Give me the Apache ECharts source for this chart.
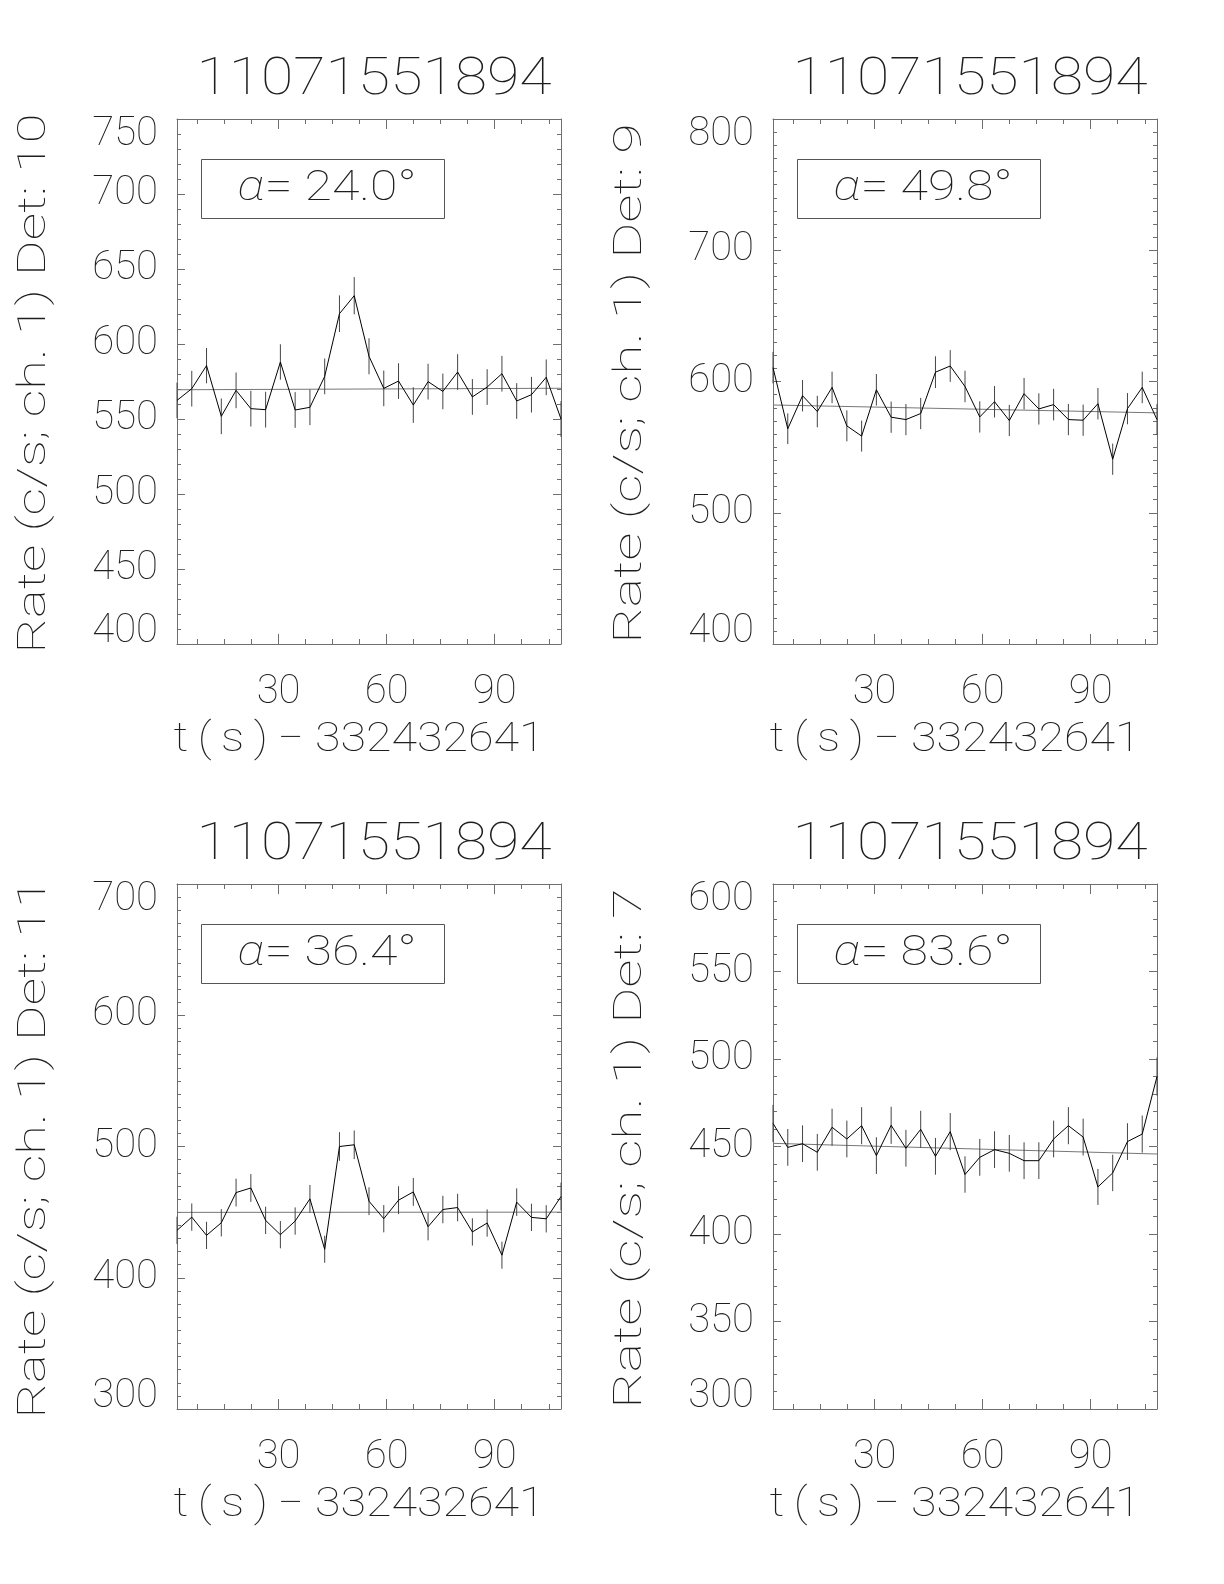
<!DOCTYPE html>
<html><head><meta charset="utf-8">
<script src="https://cdn.jsdelivr.net/npm/echarts@6/dist/echarts.min.js"></script>
<style>html,body{margin:0;padding:0;background:#fff}#c{width:1224px;height:1584px}</style>
</head><body><div id="c"></div>
<script>
// ---------------- data ----------------
const times = [1.8, 5.9, 10.0, 14.1, 18.2, 22.3, 26.4, 30.5, 34.6, 38.7, 42.8, 46.9, 51.0, 55.1,
  59.2, 63.3, 67.4, 71.5, 75.6, 79.7, 83.8, 87.9, 92.0, 96.1, 100.2, 104.3, 108.4];
const titleText = '11071551894';
const xAxisName = 't\u2009(\u2009s\u2009)\u2009\u2212 332432641';
const yAxisNamePrefix = 'Rate (c/s; ch. 1) Det: ';
const xTickLabels = [30, 60, 90];
const xMinorTicks = [7.5, 15, 22.5, 37.5, 45, 52.5, 67.5, 75, 82.5, 97.5, 105];

const det10Rate = [562.4, 570.2, 585.6, 551.8, 569.1, 556.9, 556.2, 588.0, 556.0, 557.8, 578.4, 620.2, 632.2, 591.8,
  570.4, 575.3, 559.3, 574.9, 568.4, 581.3, 564.7, 571.3, 580.2, 562.0, 566.2, 577.8, 550.0];
const det10Err = [11.9, 11.9, 11.8, 11.9, 11.9, 11.9, 11.9, 11.8, 11.9, 11.9, 11.9, 12.2, 12.4, 12.0,
  11.9, 11.9, 11.9, 11.9, 11.9, 11.9, 11.9, 11.9, 11.9, 11.9, 11.9, 11.9, 11.9];
const det10Fit = [569.5, 570.5];
const det10Ticks = [400, 450, 500, 550, 600, 650, 700, 750];
const det10Angle = '24.0';

const det9Rate = [610.6, 564.0, 589.2, 577.1, 595.5, 566.2, 558.4, 593.7, 572.8, 571.0, 575.6, 607.1, 611.8, 596.2,
  573.0, 584.6, 570.3, 590.7, 579.1, 582.4, 571.0, 570.5, 583.1, 540.8, 579.3, 595.5, 571.0];
const det9Err = [12.0, 11.7, 12.0, 12.0, 12.0, 11.8, 11.8, 12.0, 11.9, 11.9, 11.9, 12.1, 12.1, 12.0,
  11.9, 12.0, 11.9, 12.0, 11.9, 12.0, 11.9, 11.9, 12.0, 11.9, 11.9, 12.0, 11.9];
const det9Fit = [582.1, 576.1];
const det9Ticks = [400, 500, 600, 700, 800];
const det9Angle = '49.8';

const det11Rate = [436.1, 446.2, 432.3, 441.9, 464.9, 468.4, 443.7, 432.8, 443.2, 460.1, 421.7, 500.0, 501.3, 458.3,
  445.0, 459.1, 465.4, 438.9, 452.0, 453.5, 434.9, 441.7, 417.2, 457.6, 446.0, 444.9, 461.9];
const det11Err = [10.4, 10.4, 10.4, 10.4, 10.6, 10.6, 10.4, 10.4, 10.4, 10.6, 10.3, 10.9, 10.9, 10.6,
  10.4, 10.6, 10.6, 10.4, 10.5, 10.5, 10.4, 10.4, 10.3, 10.5, 10.4, 10.4, 10.6];
const det11Fit = [449.8, 450.0];
const det11Ticks = [300, 400, 500, 600, 700];
const det11Angle = '36.4';

const det7Rate = [463.2, 449.5, 451.6, 446.7, 461.0, 454.3, 461.9, 444.8, 462.1, 449.0, 459.8, 444.4, 458.5, 434.0,
  443.8, 448.2, 446.1, 441.9, 441.9, 454.3, 461.9, 455.4, 426.9, 434.9, 452.8, 457.1, 490.0];
const det7Err = [10.6, 10.5, 10.5, 10.5, 10.6, 10.5, 10.6, 10.5, 10.6, 10.5, 10.6, 10.5, 10.6, 10.4,
  10.5, 10.5, 10.5, 10.5, 10.5, 10.5, 10.6, 10.5, 10.3, 10.4, 10.5, 10.6, 10.9];
const det7Fit = [451.8, 445.7];
const det7Ticks = [300, 350, 400, 450, 500, 550, 600];
const det7Angle = '83.6';

// ---------------- layout / style ----------------
const FONT = "Roboto, Inter, 'DejaVu Sans', sans-serif";
const FW = 100;
const TXT = '#1e1e1e';
const AX = '#6e6e6e';
const W = 384, H = 525;
const panels = [
  { left: 177, top: 119, rate: det10Rate, err: det10Err, fit: det10Fit, ticks: det10Ticks, minor: 5, det: '10', angle: det10Angle },
  { left: 773, top: 119, rate: det9Rate, err: det9Err, fit: det9Fit, ticks: det9Ticks, minor: 10, det: '9', angle: det9Angle },
  { left: 177, top: 884, rate: det11Rate, err: det11Err, fit: det11Fit, ticks: det11Ticks, minor: 10, det: '11', angle: det11Angle },
  { left: 773, top: 884, rate: det7Rate, err: det7Err, fit: det7Fit, ticks: det7Ticks, minor: 5, det: '7', angle: det7Angle }
];

// horizontal stretch so the text spans the same width as the original vector font
const mctx = document.createElement('canvas').getContext('2d');
function stretch(text, font, target) {
  mctx.font = font;
  const w = mctx.measureText(text).width;
  return w > 0 ? target / w : 1;
}

const grid = [], xAxis = [], yAxis = [], series = [], graphic = [];
const tmin = times[0], tmax = times[times.length - 1];

panels.forEach((p, i) => {
  grid.push({ left: p.left, top: p.top, width: W, height: H, show: false });
  const ymin = p.ticks[0], ymax = p.ticks[p.ticks.length - 1], yint = p.ticks[1] - p.ticks[0];
  const lineStyle = { color: AX, width: 1 };
  const xBase = { gridIndex: i, type: 'value', min: tmin, max: tmax, splitLine: { show: false } };
  const xi = xAxis.length;
  xAxis.push(Object.assign({}, xBase, {
    position: 'bottom',
    axisLine: { show: true, lineStyle },
    axisTick: { show: true, inside: true, length: 10, customValues: xTickLabels, lineStyle },
    axisLabel: { show: true, customValues: xTickLabels, margin: 29, fontSize: 40, fontFamily: FONT, fontWeight: FW, color: TXT }
  }));
  xAxis.push(Object.assign({}, xBase, {
    position: 'bottom', axisLine: { show: false },
    axisTick: { show: true, inside: true, length: 5, customValues: xMinorTicks, lineStyle },
    axisLabel: { show: false }
  }));
  xAxis.push(Object.assign({}, xBase, {
    position: 'top', axisLine: { show: true, lineStyle },
    axisTick: { show: true, inside: true, length: 10, customValues: xTickLabels, lineStyle },
    axisLabel: { show: false }
  }));
  xAxis.push(Object.assign({}, xBase, {
    position: 'top', axisLine: { show: false },
    axisTick: { show: true, inside: true, length: 5, customValues: xMinorTicks, lineStyle },
    axisLabel: { show: false }
  }));
  const yBase = {
    gridIndex: i, type: 'value', min: ymin, max: ymax, interval: yint,
    splitLine: { show: false }, minorSplitLine: { show: false },
    axisLine: { show: true, lineStyle },
    axisTick: { show: true, inside: true, length: 8, lineStyle },
    minorTick: { show: true, splitNumber: p.minor, length: 4, lineStyle }
  };
  const yi = yAxis.length;
  const lblFont = { fontSize: 40, fontFamily: FONT, fontWeight: FW, color: TXT };
  yAxis.push(Object.assign({}, yBase, {
    position: 'left',
    axisLabel: {
      show: true, margin: 19, ...lblFont,
      formatter: v => v === ymax ? '{hi|' + v + '}' : (v === ymin ? '{lo|' + v + '}' : String(v)),
      rich: {
        hi: Object.assign({ padding: [32, 0, 0, 0] }, lblFont),
        lo: Object.assign({ padding: [0, 0, 24, 0] }, lblFont)
      }
    }
  }));
  yAxis.push(Object.assign({}, yBase, { position: 'right', axisLabel: { show: false } }));

  series.push({
    type: 'line', xAxisIndex: xi, yAxisIndex: yi, symbol: 'none', silent: true,
    lineStyle: { color: '#000', width: 1 },
    data: times.map((t, k) => [t, p.rate[k]]), z: 4
  });
  series.push({
    type: 'custom', xAxisIndex: xi, yAxisIndex: yi, silent: true, z: 3,
    data: times.map((t, k) => [t, p.rate[k] - p.err[k], p.rate[k] + p.err[k]]),
    renderItem: (params, api) => {
      const a = api.coord([api.value(0), api.value(1)]);
      const b = api.coord([api.value(0), api.value(2)]);
      return { type: 'line', shape: { x1: a[0], y1: a[1], x2: b[0], y2: b[1] },
        style: { stroke: '#444', lineWidth: 1 } };
    }
  });
  series.push({
    type: 'line', xAxisIndex: xi, yAxisIndex: yi, symbol: 'none', silent: true,
    lineStyle: { color: '#777', width: 1 },
    data: [[tmin, p.fit[0]], [tmax, p.fit[1]]], z: 2
  });

  // title
  const tFont = FW + ' 51px ' + FONT;
  graphic.push({
    type: 'text', x: p.left + W / 2 + 5, y: p.top - 38, silent: true,
    scaleX: stretch(titleText, tFont, 355),
    style: { text: titleText, font: tFont, fill: TXT, textAlign: 'center', textVerticalAlign: 'middle' }
  });
  // x axis title
  const xnFont = FW + ' 40px ' + FONT;
  graphic.push({
    type: 'text', x: p.left + 182, y: p.top + H + 97, silent: true,
    scaleX: stretch(xAxisName, xnFont, 371),
    style: { text: xAxisName, font: xnFont, fill: TXT, textAlign: 'center', textVerticalAlign: 'middle' }
  });
  // y axis title (rotated)
  const yName = yAxisNamePrefix + p.det;
  const ynFont = FW + ' 39px ' + FONT;
  graphic.push({
    type: 'text', x: p.left - 142, y: p.top + H / 2 + 2, rotation: Math.PI / 2, silent: true,
    scaleX: stretch(yName, ynFont, p.det.length > 1 ? 540 : 520),
    style: { text: yName, font: ynFont, fill: TXT, textAlign: 'center', textVerticalAlign: 'middle' }
  });
  // annotation box
  graphic.push({
    type: 'rect', silent: true,
    shape: { x: p.left + 24.5, y: p.top + 40.5, width: 243, height: 59 },
    style: { fill: null, stroke: '#555', lineWidth: 1 }
  });
  const aFont = FW + ' 43px ' + FONT;
  const aText = '\u03b1= ' + p.angle + '\u00b0';
  graphic.push({
    type: 'text', x: p.left + 24 + 126, y: p.top + 70, silent: true,
    scaleX: stretch(aText, aFont, 180),
    style: {
      text: '{a|\u03b1}= ' + p.angle + '\u00b0',
      font: aFont, fill: TXT, textAlign: 'center', textVerticalAlign: 'middle',
      rich: { a: { fontFamily: FONT, fontStyle: 'italic', fontWeight: FW, fontSize: 43, fill: TXT } }
    }
  });
});

const chart = echarts.init(document.getElementById('c'), null, { renderer: 'canvas' });
chart.setOption({ backgroundColor: '#fff', animation: false, grid, xAxis, yAxis, series, graphic });
</script></body></html>
